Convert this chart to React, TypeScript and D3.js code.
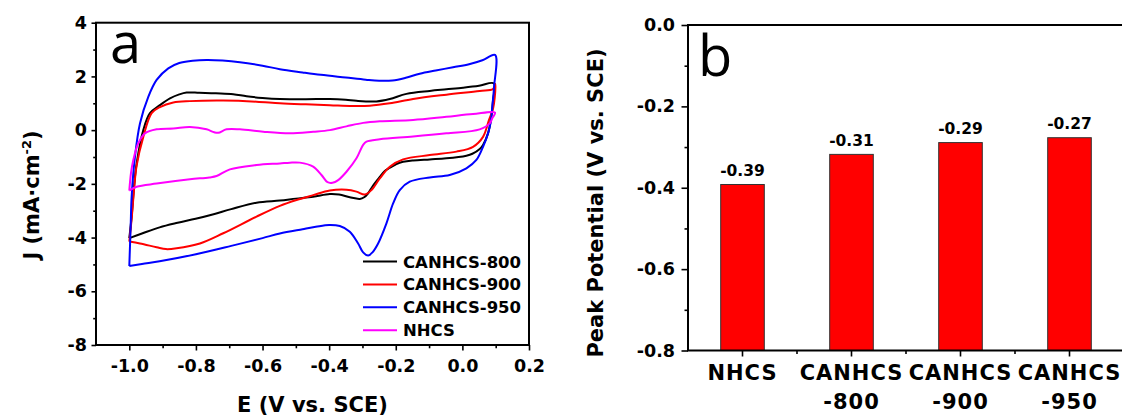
import React, { useEffect, useRef } from 'react';
import * as d3 from 'd3';

type Pt = [number, number];

// CV curves, E (V vs. SCE) / J (mA cm-2), forward scan then reverse scan
const canhcs800: Pt[] = [
  [-1.0, -4.02], [-0.993, -3.22], [-0.985, -2.0], [-0.978, -1.24], [-0.958, 0.0],
  [-0.938, 0.63], [-0.908, 0.93], [-0.878, 1.18], [-0.85, 1.33], [-0.828, 1.4],
  [-0.79, 1.39], [-0.74, 1.37], [-0.688, 1.34], [-0.648, 1.26], [-0.6, 1.2],
  [-0.548, 1.16], [-0.47, 1.15], [-0.398, 1.16], [-0.35, 1.13], [-0.318, 1.09],
  [-0.258, 1.07], [-0.218, 1.16], [-0.168, 1.35], [-0.098, 1.46], [-0.048, 1.52],
  [0.002, 1.58], [0.05, 1.65], [0.095, 1.74],
  [0.092, 1.12], [0.087, 0.5], [0.077, -0.12], [0.062, -0.55], [0.052, -0.7],
  [0.03, -0.88], [0.012, -0.95], [-0.048, -1.05], [-0.098, -1.09], [-0.148, -1.13],
  [-0.178, -1.18], [-0.198, -1.26], [-0.218, -1.4], [-0.233, -1.52], [-0.248, -1.74],
  [-0.258, -1.9], [-0.27, -2.1], [-0.283, -2.35], [-0.295, -2.5], [-0.308, -2.56],
  [-0.338, -2.5], [-0.37, -2.4], [-0.398, -2.38], [-0.448, -2.48], [-0.5, -2.55],
  [-0.548, -2.62], [-0.618, -2.7], [-0.694, -2.94], [-0.747, -3.13], [-0.801, -3.3],
  [-0.855, -3.45], [-0.909, -3.62], [-0.962, -3.85], [-1.0, -4.02],
];

const canhcs900: Pt[] = [
  [-1.0, -4.15], [-0.993, -3.3], [-0.985, -2.1], [-0.978, -1.32], [-0.958, -0.25],
  [-0.933, 0.63], [-0.908, 0.86], [-0.868, 1.03], [-0.818, 1.08], [-0.718, 1.1],
  [-0.618, 1.06], [-0.548, 1.0], [-0.47, 0.96], [-0.398, 0.93], [-0.33, 0.9],
  [-0.278, 0.91], [-0.218, 1.0], [-0.148, 1.16], [-0.048, 1.32], [0.052, 1.46],
  [0.092, 1.53], [0.099, 1.72],
  [0.097, 1.2], [0.092, 0.8], [0.08, 0.38], [0.062, -0.25], [0.032, -0.62],
  [-0.018, -0.8], [-0.098, -0.93], [-0.178, -1.09], [-0.218, -1.36], [-0.248, -1.8],
  [-0.273, -2.23], [-0.293, -2.4], [-0.318, -2.29], [-0.348, -2.22], [-0.398, -2.25],
  [-0.448, -2.42], [-0.498, -2.6], [-0.548, -2.82], [-0.618, -3.22], [-0.718, -3.84],
  [-0.788, -4.22], [-0.858, -4.4], [-0.89, -4.43], [-0.918, -4.36], [-0.968, -4.22],
  [-1.0, -4.15],
];

const canhcs950: Pt[] = [
  [-1.0, -5.06], [-0.996, -3.6], [-0.993, -2.48], [-0.983, -0.99], [-0.968, 0.25],
  [-0.943, 1.24], [-0.918, 1.87], [-0.883, 2.3], [-0.85, 2.5], [-0.81, 2.58],
  [-0.768, 2.61], [-0.72, 2.59], [-0.668, 2.53], [-0.6, 2.4], [-0.548, 2.27],
  [-0.48, 2.15], [-0.425, 2.06], [-0.35, 1.96], [-0.29, 1.88], [-0.25, 1.84],
  [-0.21, 1.85], [-0.17, 1.95], [-0.128, 2.1], [-0.08, 2.22], [-0.028, 2.34],
  [0.02, 2.45], [0.06, 2.6], [0.098, 2.8],
  [0.095, 1.6], [0.09, 0.9], [0.085, 0.3], [0.077, -0.12], [0.062, -0.62],
  [0.042, -1.11], [0.012, -1.42], [-0.038, -1.67], [-0.098, -1.76], [-0.158, -1.92],
  [-0.188, -2.23], [-0.208, -2.73], [-0.228, -3.47], [-0.253, -4.22], [-0.27, -4.55],
  [-0.283, -4.67], [-0.298, -4.55], [-0.313, -4.22], [-0.338, -3.78], [-0.368, -3.57],
  [-0.4, -3.53], [-0.44, -3.6], [-0.48, -3.69], [-0.548, -3.85], [-0.6, -4.02],
  [-0.694, -4.31], [-0.8, -4.62], [-0.909, -4.88], [-0.962, -4.98], [-1.0, -5.06],
];

const nhcs: Pt[] = [
  [-1.0, -2.25], [-0.995, -1.6], [-0.988, -1.11], [-0.973, -0.49], [-0.953, -0.12],
  [-0.918, 0.03], [-0.868, 0.06], [-0.818, 0.12], [-0.768, 0.03], [-0.745, -0.08],
  [-0.733, -0.1], [-0.708, 0.03], [-0.668, 0.03], [-0.598, -0.06], [-0.518, -0.12],
  [-0.448, -0.06], [-0.398, 0.0], [-0.348, 0.14], [-0.298, 0.27], [-0.248, 0.33],
  [-0.148, 0.38], [-0.048, 0.5], [0.032, 0.6], [0.098, 0.65],
  [0.09, 0.45], [0.082, 0.25], [0.052, 0.03], [-0.048, -0.12], [-0.148, -0.24],
  [-0.248, -0.34], [-0.288, -0.43], [-0.298, -0.55], [-0.318, -1.05], [-0.348, -1.55],
  [-0.373, -1.86], [-0.39, -1.96], [-0.405, -1.94], [-0.423, -1.67], [-0.448, -1.36],
  [-0.488, -1.21], [-0.518, -1.21], [-0.548, -1.24], [-0.618, -1.3], [-0.698, -1.46],
  [-0.738, -1.71], [-0.76, -1.76], [-0.818, -1.83], [-0.918, -1.99], [-0.978, -2.11],
  [-1.0, -2.25],
];

const cvSeries = [
  { name: 'CANHCS-800', color: '#000000', points: canhcs800 },
  { name: 'CANHCS-900', color: '#ff0000', points: canhcs900 },
  { name: 'CANHCS-950', color: '#0000ff', points: canhcs950 },
  { name: 'NHCS', color: '#ff00ff', points: nhcs },
];

const cvXTicks = [-1.0, -0.8, -0.6, -0.4, -0.2, 0.0, 0.2];
const cvXMinor = [-0.9, -0.7, -0.5, -0.3, -0.1, 0.1];
const cvYTicks = [-8, -6, -4, -2, 0, 2, 4];
const cvYMinor = [-7, -5, -3, -1, 1, 3];

// peak potentials
const peakCategories = ['NHCS', 'CANHCS-800', 'CANHCS-900', 'CANHCS-950'];
const peakLine1 = ['NHCS', 'CANHCS', 'CANHCS', 'CANHCS'];
const peakLine2 = ['', '-800', '-900', '-950'];
const peakValues = [-0.392, -0.318, -0.289, -0.277];
const peakLabels = ['-0.39', '-0.31', '-0.29', '-0.27'];
const peakYTicks = [0, -0.2, -0.4, -0.6, -0.8];
const peakYMinor = [-0.1, -0.3, -0.5, -0.7];

const FONT = '"DejaVu Sans", sans-serif';

const App = () => {
  const svgRef = useRef<SVGSVGElement>(null);

  useEffect(() => {
    const svg = d3.select(svgRef.current);
    svg.selectAll('*').remove();

    const styleAxis = (g: any, fontSize: number) => {
      g.select('.domain').remove();
      g.selectAll('.tick line').attr('stroke', '#000').attr('stroke-width', 1.6);
      g.selectAll('.tick text')
        .attr('fill', '#000')
        .style('font-family', FONT)
        .style('font-weight', 'bold')
        .style('font-size', `${fontSize}px`);
    };

    // ---------- panel a ----------
    const x = d3.scaleLinear().domain([-1.1, 0.2]).range([96, 529]);
    const y = d3.scaleLinear().domain([-8, 4]).range([345, 22.7]);
    const a = svg.append('g');

    a.append('g')
      .attr('transform', `translate(0,${y(-8)})`)
      .call(d3.axisBottom(x).tickValues(cvXTicks).tickSize(5.5).tickPadding(9)
        .tickFormat((d: any) => (+d).toFixed(1)))
      .call((g: any) => styleAxis(g, 17.5));
    a.append('g')
      .attr('transform', `translate(0,${y(-8)})`)
      .call(d3.axisBottom(x).tickValues(cvXMinor).tickSize(3.3).tickFormat(() => ''))
      .call((g: any) => styleAxis(g, 17.5));
    a.append('g')
      .attr('transform', `translate(${x(-1.1)},0)`)
      .call(d3.axisLeft(y).tickValues(cvYTicks).tickSize(4.5).tickPadding(4.5)
        .tickFormat((d: any) => String(d)))
      .call((g: any) => styleAxis(g, 17.5));
    a.append('g')
      .attr('transform', `translate(${x(-1.1)},0)`)
      .call(d3.axisLeft(y).tickValues(cvYMinor).tickSize(2.8).tickFormat(() => ''))
      .call((g: any) => styleAxis(g, 17.5));

    const line = d3.line<Pt>()
      .x((d) => x(d[0]))
      .y((d) => y(d[1]))
      .curve(d3.curveCatmullRom.alpha(0.5));

    a.selectAll('.cv')
      .data(cvSeries)
      .enter()
      .append('path')
      .attr('class', 'cv')
      .attr('d', (d) => line(d.points))
      .attr('fill', 'none')
      .attr('stroke', (d) => d.color)
      .attr('stroke-width', 2)
      .attr('stroke-linejoin', 'round');

    a.append('rect')
      .attr('x', x(-1.1))
      .attr('y', y(4))
      .attr('width', x(0.2) - x(-1.1))
      .attr('height', y(-8) - y(4))
      .attr('fill', 'none')
      .attr('stroke', '#000')
      .attr('stroke-width', 2);

    const legend = a.selectAll('.leg')
      .data(cvSeries)
      .enter()
      .append('g')
      .attr('class', 'leg')
      .attr('transform', (_d, i) => `translate(363,${261.5 + i * 22.9})`);
    legend.append('line')
      .attr('x1', 0).attr('x2', 34)
      .attr('stroke', (d) => d.color)
      .attr('stroke-width', 2);
    legend.append('text')
      .attr('x', 40)
      .attr('y', 6)
      .text((d) => d.name)
      .style('font-family', FONT)
      .style('font-weight', 'bold')
      .style('font-size', '16.5px');

    a.append('text')
      .attr('x', 110)
      .attr('y', 63)
      .text('a')
      .style('font-family', '"Open Sans", sans-serif')
      .style('font-size', '56px');

    a.append('text')
      .attr('x', (x(-1.1) + x(0.2)) / 2)
      .attr('y', 412)
      .attr('text-anchor', 'middle')
      .text('E (V vs. SCE)')
      .style('font-family', FONT)
      .style('font-weight', 'bold')
      .style('font-size', '21px');

    const yTitle = a.append('text')
      .attr('transform', 'translate(39,195) rotate(-90)')
      .attr('text-anchor', 'middle')
      .style('font-family', FONT)
      .style('font-weight', 'bold')
      .style('font-size', '21px');
    yTitle.append('tspan').text('J (mA\u00b7cm');
    yTitle.append('tspan').attr('dy', -8).style('font-size', '13px').text('-2');
    yTitle.append('tspan').attr('dy', 8).text(')');

    // ---------- panel b ----------
    const xb = d3.scaleBand().domain(peakCategories).range([688, 1124]);
    const yb = d3.scaleLinear().domain([-0.8, 0]).range([350.5, 25]);
    const b = svg.append('g');

    b.selectAll('.bar')
      .data(peakValues)
      .enter()
      .append('rect')
      .attr('class', 'bar')
      .attr('x', (_d, i) => (xb(peakCategories[i]) as number) + xb.bandwidth() * 0.3)
      .attr('y', (d) => yb(d))
      .attr('width', xb.bandwidth() * 0.4)
      .attr('height', (d) => yb(-0.8) - yb(d))
      .attr('fill', '#ff0000')
      .attr('stroke', '#333')
      .attr('stroke-width', 1);

    b.selectAll('.val')
      .data(peakValues)
      .enter()
      .append('text')
      .attr('class', 'val')
      .attr('x', (_d, i) => (xb(peakCategories[i]) as number) + xb.bandwidth() / 2)
      .attr('y', (d) => yb(d) - 8.5)
      .attr('text-anchor', 'middle')
      .text((_d, i) => peakLabels[i])
      .style('font-family', FONT)
      .style('font-weight', 'bold')
      .style('font-size', '15.5px');

    b.append('g')
      .attr('transform', `translate(${xb.range()[0]},0)`)
      .call(d3.axisLeft(yb).tickValues(peakYTicks).tickSize(6.5).tickPadding(6.5)
        .tickFormat((d: any) => (+d).toFixed(1)))
      .call((g: any) => styleAxis(g, 17.5));
    b.append('g')
      .attr('transform', `translate(${xb.range()[0]},0)`)
      .call(d3.axisLeft(yb).tickValues(peakYMinor).tickSize(3.5).tickFormat(() => ''))
      .call((g: any) => styleAxis(g, 17.5));
    b.append('g')
      .attr('transform', `translate(0,${yb(-0.8)})`)
      .call(d3.axisBottom(xb).tickSize(6).tickFormat(() => ''))
      .call((g: any) => styleAxis(g, 17.5));
    b.selectAll('.minor-x')
      .data(peakCategories.slice(1))
      .enter()
      .append('line')
      .attr('class', 'minor-x')
      .attr('x1', (d) => xb(d) as number)
      .attr('x2', (d) => xb(d) as number)
      .attr('y1', yb(-0.8))
      .attr('y2', yb(-0.8) + 3.5)
      .attr('stroke', '#000')
      .attr('stroke-width', 1.6);

    const [bx0, bx1] = xb.range();
    b.append('path')
      .attr('d', `M${bx1},${yb(0)}H${bx0}V${yb(-0.8)}H${bx1}`)
      .attr('fill', 'none')
      .attr('stroke', '#000')
      .attr('stroke-width', 2);

    const catLabels = b.selectAll('.cat')
      .data(peakCategories)
      .enter()
      .append('text')
      .attr('class', 'cat')
      .attr('text-anchor', 'middle')
      .style('font-family', FONT)
      .style('font-weight', 'bold')
      .style('font-size', '21px')
      .style('letter-spacing', '1px');
    catLabels.append('tspan')
      .attr('x', (d) => (xb(d) as number) + xb.bandwidth() / 2)
      .attr('y', 380)
      .text((_d, i) => peakLine1[i]);
    catLabels.append('tspan')
      .attr('x', (d) => (xb(d) as number) + xb.bandwidth() / 2)
      .attr('y', 409)
      .text((_d, i) => peakLine2[i]);

    b.append('text')
      .attr('x', 698)
      .attr('y', 76)
      .text('b')
      .style('font-family', '"Open Sans", sans-serif')
      .style('font-size', '56px');

    b.append('text')
      .attr('transform', 'translate(603,203) rotate(-90)')
      .attr('text-anchor', 'middle')
      .text('Peak Potential (V vs. SCE)')
      .style('font-family', FONT)
      .style('font-weight', 'bold')
      .style('font-size', '21px');
  }, []);

  return (
    <svg
      ref={svgRef}
      width={1122}
      height={418}
      style={{ position: 'absolute', left: 0, top: 0, background: '#fff' }}
    />
  );
};

export default App;
